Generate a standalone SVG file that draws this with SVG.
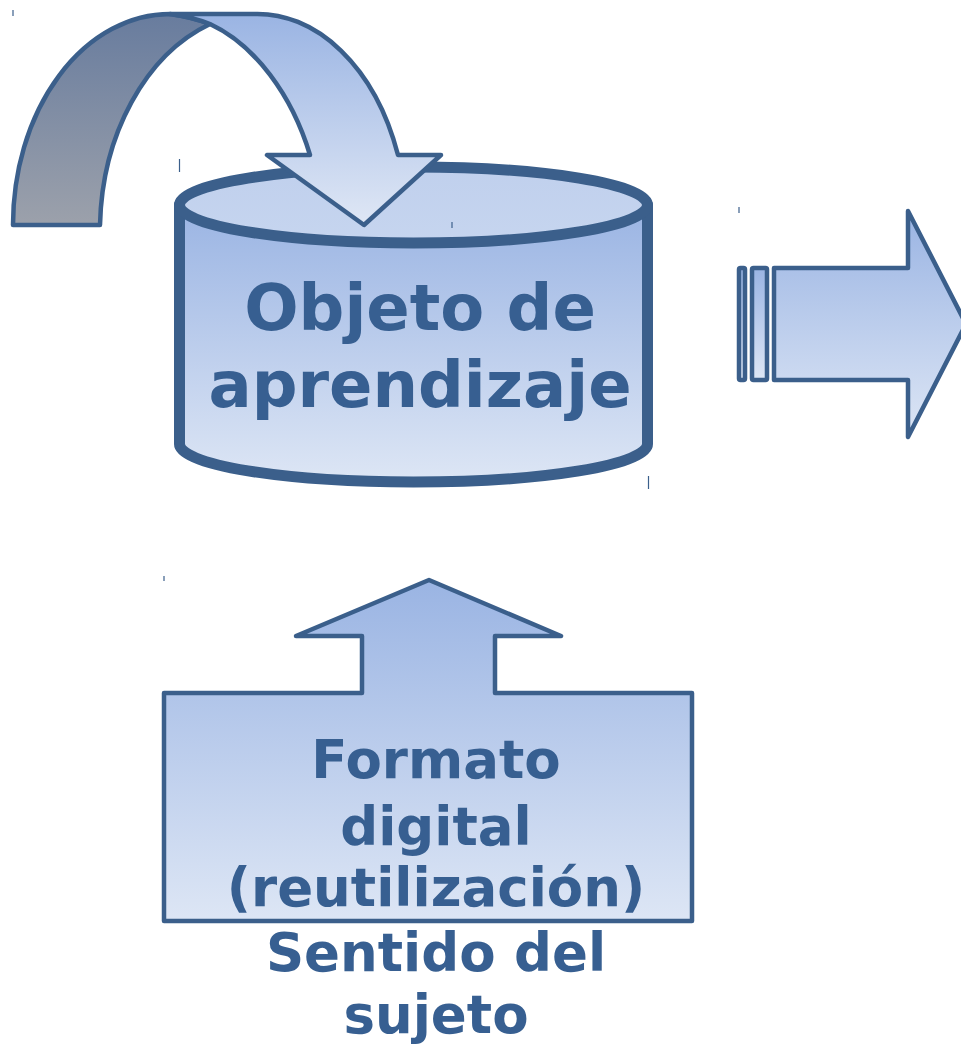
<svg xmlns="http://www.w3.org/2000/svg" width="961" height="1044" viewBox="0 0 961 1044">
<defs>
<linearGradient id="gBlue" x1="0" y1="0" x2="0" y2="1">
<stop offset="0" stop-color="#9ab4e3"/>
<stop offset="1" stop-color="#dde6f5"/>
</linearGradient>
<linearGradient id="gGray" x1="0" y1="0" x2="0" y2="1">
<stop offset="0" stop-color="#687c9e"/>
<stop offset="1" stop-color="#9ca1ab"/>
</linearGradient>
<linearGradient id="gTop" x1="0" y1="0" x2="0" y2="1">
<stop offset="0" stop-color="#c0d0ed"/>
<stop offset="1" stop-color="#c6d5ef"/>
</linearGradient>
<linearGradient id="gArrowTip" x1="0" y1="0" x2="0" y2="1">
<stop offset="0" stop-color="#9ab4e3"/>
<stop offset="1" stop-color="#dfe7f5"/>
</linearGradient>
</defs>
<style>
.sh{stroke:#3b5f8b;stroke-linejoin:round;stroke-linecap:round}
.t{font-family:"DejaVu Sans",sans-serif;font-weight:bold;fill:#375f91;text-anchor:middle}
.tick{stroke:#3b5f8b;stroke-width:1.2}
</style>
<g id="cylinder">
<path class="sh" d="M179.5,205 L179.5,444 A234,38 0 0 0 647.5,444 L647.5,205" fill="url(#gBlue)" stroke-width="11"/>
<ellipse class="sh" cx="413.5" cy="205" rx="234" ry="38" fill="url(#gTop)" stroke-width="11"/>
<text class="t" font-size="64" x="420" y="330">Objeto de</text>
<text class="t" font-size="64" x="420" y="407">aprendizaje</text>
</g>
<g id="connectors">
<g id="curved-arrow">
<path class="sh" stroke-width="4.5" fill="url(#gGray)" d="M13,225 A157,211 0 0 1 170,14 Q192,17 210,24 C145,55 102,135 100,225 Z"/>
<path class="sh" stroke-width="4.5" fill="url(#gArrowTip)" d="M170,14 L253,14 A150,217 0 0 1 398,155 L441,155 L364,225 L267,155 L310,155 C292,95 255,45 210,24 Q192,17 170,14 Z"/>
</g>
<g id="right-arrow">
<rect class="sh" stroke-width="4.5" fill="url(#gBlue)" x="739" y="268" width="6" height="112" rx="1.5"/>
<rect class="sh" stroke-width="4.5" fill="url(#gBlue)" x="752" y="268" width="15" height="112" rx="1.5"/>
<path class="sh" stroke-width="4.5" fill="url(#gBlue)" d="M774,268 L908,268 L908,211 L966,324 L908,437 L908,380 L774,380 Z"/>
</g>
</g>
<g id="format-box">
<path class="sh" stroke-width="4.5" fill="url(#gBlue)" d="M164,693 L362,693 L362,636 L296,636 L429,580 L561,636 L495,636 L495,693 L692,693 L692,921 L164,921 Z"/>
<text class="t" font-size="53" x="436" y="778">Formato</text>
<text class="t" font-size="53" x="436" y="845">digital</text>
<text class="t" font-size="53" x="436" y="906">(reutilización)</text>
</g>
<g id="caption">
<text class="t" font-size="53" x="436" y="971">Sentido del</text>
<text class="t" font-size="53" x="436" y="1033">sujeto</text>
</g>
<g id="ticks">
<line class="tick" x1="13" y1="10" x2="13" y2="16"/>
<line class="tick" x1="179.5" y1="159" x2="179.5" y2="172"/>
<line class="tick" x1="452" y1="222" x2="452" y2="228"/>
<line class="tick" x1="648.5" y1="476" x2="648.5" y2="489"/>
<line class="tick" x1="739" y1="207" x2="739" y2="213"/>
<line class="tick" x1="164" y1="576" x2="164" y2="581"/>
</g>
</svg>
